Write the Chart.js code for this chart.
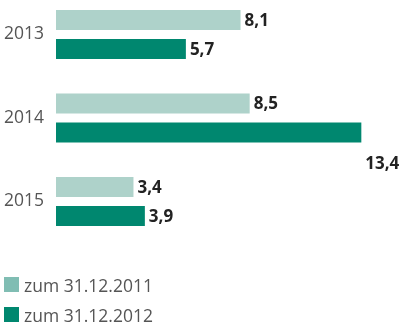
<!DOCTYPE html>
<html>
<head>
<meta charset="utf-8">
<script src="https://cdn.jsdelivr.net/npm/chart.js@4"></script>
<style>
  html, body { margin:0; padding:0; background:#fff; }
  #wrap { position:relative; width:401px; height:323px; }
  #legend { position:absolute; left:4px; top:277px; font-family:"Open Sans", sans-serif; font-size:17.5px; color:#555; }
  .item { display:flex; align-items:center; height:15px; margin-bottom:15px; }
  .box { width:15px; height:15px; margin-right:5px; }
</style>
</head>
<body>
<div id="wrap">
  <canvas id="chart" width="401" height="323"></canvas>
  <div id="legend"></div>
</div>
<script>
// data
const years  = ["2013", "2014", "2015"];
const s2011  = [8.1, 8.5, 3.4];
const s2012  = [5.7, 13.4, 3.9];
const seriesNames = ["zum 31.12.2011", "zum 31.12.2012"];
const barColors   = ["#aed2ca", "#00876f"];
const legendColors = ["#80bdb3", "#00876f"];

// value labels right of the bar, pushed below when out of room
const valueLabels = {
  id: "valueLabels",
  afterDatasetsDraw(chart) {
    const ctx = chart.ctx;
    ctx.save();
    ctx.font = "bold 17px 'Open Sans'";
    ctx.fillStyle = "#222";
    ctx.textBaseline = "middle";
    chart.data.datasets.forEach((ds, i) => {
      chart.getDatasetMeta(i).data.forEach((bar, j) => {
        const txt = ds.data[j].toFixed(1).replace(".", ",");
        const w = ctx.measureText(txt).width;
        let x = bar.x + 4, y = bar.y + 1;
        if (x + w > chart.chartArea.right) y += 31;
        ctx.fillText(txt, x, y);
      });
    });
    ctx.restore();
  }
};

const chart = new Chart(document.getElementById("chart"), {
  type: "bar",
  data: {
    labels: years,
    datasets: [
      { label: seriesNames[0], data: s2011, backgroundColor: barColors[0], clip: false },
      { label: seriesNames[1], data: s2012, backgroundColor: barColors[1], clip: false }
    ]
  },
  options: {
    indexAxis: "y",
    responsive: false,
    animation: false,
    categoryPercentage: 0.695,
    barPercentage: 0.69,
    layout: { padding: { left: 4, right: 26, top: 34.5, bottom: 121.5 } },
    plugins: { legend: { display: false }, tooltip: { enabled: false } },
    scales: {
      x: { display: false, min: 0, max: 14 },
      y: {
        offset: false,
        grid: { display: false, drawTicks: false },
        border: { display: false },
        ticks: { color: "#555", font: { family: "Open Sans", size: 17.5 }, padding: 12 },
        afterFit: s => { s.width = 52; }
      }
    }
  },
  plugins: [valueLabels]
});

// legend
const $legend = document.getElementById("legend");
seriesNames.forEach((name, i) => {
  const row = document.createElement("div");
  row.className = "item";
  row.innerHTML = `<span class="box" style="background:${legendColors[i]}"></span><span>${name}</span>`;
  $legend.appendChild(row);
});
</script>
</body>
</html>
